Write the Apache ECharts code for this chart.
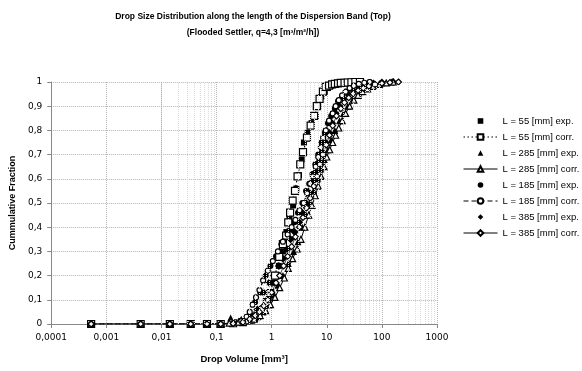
<!DOCTYPE html>
<html>
<head>
<meta charset="utf-8">
<script src="https://cdn.jsdelivr.net/npm/echarts@6/dist/echarts.min.js"></script>
<style>
  html, body { margin: 0; padding: 0; background: #fff; }
  #chart { width: 582px; height: 371px; }
</style>
</head>
<body>
<div id="chart"></div>
<script>
// drop volume [mm3] / cumulative fraction pairs
const l55Exp = [[0.3,0.005],[0.5,0.02],[0.7,0.05],[0.88,0.1],[1.1,0.17],[1.35,0.24],[1.6,0.3],[1.85,0.38],[2.1,0.44],[2.45,0.49],[2.8,0.56],[3.13,0.615],[3.5,0.68],[3.85,0.75],[4.5,0.79],[5.3,0.83],[6.3,0.857],[7,0.9],[8,0.94],[9.2,0.96],[10.5,0.975],[12,0.985],[15,0.99],[20,0.996],[28,1]];
const l55Corr = [[0.00053,0],[0.0042,0],[0.0142,0],[0.034,0],[0.067,0],[0.119,0],[0.2,0.003],[0.3,0.008],[0.42,0.018],[0.55,0.035],[0.7,0.06],[0.82,0.09],[0.94,0.128],[1.15,0.2],[1.37,0.277],[1.6,0.33],[1.83,0.365],[2,0.42],[2.16,0.46],[2.4,0.51],[2.65,0.55],[2.95,0.61],[3.3,0.66],[3.7,0.71],[4.37,0.77],[5.1,0.82],[5.9,0.86],[6.6,0.9],[7.4,0.93],[8.5,0.96],[9.5,0.98],[11,0.985],[12.5,0.99],[14,0.992],[16,0.994],[18,0.996],[21,0.997],[24,0.998],[28,0.999],[33,1],[40,1]];
const l285Exp = [[0.18,0.025],[0.28,0.02],[0.4,0.015],[0.55,0.03],[0.7,0.05],[0.9,0.08],[1.1,0.12],[1.3,0.16],[1.6,0.2],[2,0.25],[2.5,0.3],[3,0.34],[3.6,0.4],[4.2,0.45],[5,0.5],[5.8,0.55],[6.8,0.6],[7.8,0.64],[9,0.68],[10.5,0.72],[12,0.76],[14,0.8],[17,0.84],[20,0.87],[24,0.9],[30,0.93],[38,0.955],[50,0.975],[70,0.988],[100,0.996],[150,1]];
const l285Corr = [[0.00053,0],[0.0042,0],[0.0142,0],[0.034,0],[0.067,0],[0.119,0],[0.17,0.004],[0.25,0.008],[0.35,0.013],[0.48,0.02],[0.62,0.035],[0.78,0.055],[0.95,0.08],[1.15,0.11],[1.4,0.15],[1.7,0.19],[2,0.23],[2.4,0.27],[2.9,0.31],[3.4,0.35],[4,0.4],[4.7,0.45],[5.4,0.49],[6.2,0.53],[7,0.57],[7.9,0.61],[8.9,0.65],[10,0.69],[11.3,0.72],[12.8,0.75],[14.5,0.78],[16.5,0.81],[19,0.84],[22,0.87],[26,0.9],[31,0.925],[37,0.945],[45,0.96],[55,0.972],[70,0.982],[90,0.99],[120,0.996],[160,1]];
const l185Exp = [[0.3,0.01],[0.4,0.04],[0.5,0.09],[0.62,0.13],[0.78,0.2],[0.95,0.24],[1.2,0.28],[1.5,0.33],[1.8,0.36],[2.2,0.39],[2.6,0.42],[3,0.46],[3.6,0.5],[4.2,0.55],[4.8,0.58],[5.5,0.62],[6.2,0.66],[7,0.7],[8,0.75],[9.2,0.79],[10.5,0.83],[12,0.86],[14,0.89],[16,0.92],[19,0.94],[23,0.96],[28,0.975],[35,0.988],[45,0.995],[60,1]];
const l185Corr = [[0.00053,0],[0.0042,0],[0.0142,0],[0.034,0],[0.067,0],[0.119,0],[0.2,0.004],[0.28,0.012],[0.35,0.03],[0.4,0.05],[0.45,0.08],[0.52,0.11],[0.6,0.14],[0.7,0.18],[0.85,0.22],[1.05,0.26],[1.3,0.3],[1.6,0.34],[1.95,0.37],[2.3,0.4],[2.7,0.43],[3.2,0.47],[3.8,0.5],[4.4,0.54],[5,0.58],[5.6,0.61],[6.3,0.65],[7,0.69],[7.8,0.73],[8.6,0.77],[9.6,0.8],[11,0.84],[12.8,0.87],[14.5,0.9],[16.5,0.925],[19,0.945],[22,0.96],[26,0.975],[31,0.985],[38,0.992],[48,0.997],[60,1]];
const l385Exp = [[0.45,0.03],[0.55,0.06],[0.71,0.13],[0.9,0.17],[1.1,0.2],[1.35,0.24],[1.6,0.27],[1.9,0.31],[2.2,0.35],[2.6,0.38],[3.16,0.42],[3.6,0.46],[4.2,0.5],[4.9,0.54],[5.6,0.59],[6.4,0.63],[7.3,0.67],[8.3,0.71],[9.5,0.75],[11,0.79],[12.5,0.83],[14.5,0.87],[17,0.9],[20,0.93],[24,0.95],[30,0.965],[38,0.978],[50,0.987],[70,0.994],[100,0.998],[160,1]];
const l385Corr = [[0.00053,0],[0.0042,0],[0.0142,0],[0.034,0],[0.067,0],[0.119,0],[0.2,0.002],[0.3,0.008],[0.4,0.02],[0.5,0.035],[0.6,0.05],[0.72,0.075],[0.85,0.1],[1,0.13],[1.2,0.17],[1.4,0.2],[1.65,0.24],[1.95,0.28],[2.3,0.32],[2.7,0.36],[3.2,0.4],[3.7,0.44],[4.3,0.48],[5,0.52],[5.8,0.57],[6.6,0.61],[7.5,0.66],[8.5,0.7],[9.8,0.74],[11.2,0.78],[12.8,0.82],[15,0.86],[18,0.89],[21,0.915],[25,0.935],[30,0.952],[37,0.965],[46,0.975],[58,0.983],[75,0.99],[100,0.995],[140,0.998],[200,1]];

// minor gridline positions (2..9 in every decade)
const minorTicks = [];
[0.0001, 0.001, 0.01, 0.1, 1, 10, 100].forEach(function (d) {
  for (let k = 2; k <= 9; k++) minorTicks.push(+(d * k).toPrecision(3));
});

const font = "DejaVu Sans";
const comma = function (v) { return String(v).replace(".", ","); };

// exp. points: line type with an invisible line so the legend shows just the marker
const expSeries = function (name, data, symbol, size) {
  return {
    name: name, type: "line", data: data,
    symbol: symbol, symbolSize: size, showAllSymbol: true,
    itemStyle: { color: "#000" },
    lineStyle: { width: 0, opacity: 0 },
    z: 3
  };
};
const corrSeries = function (name, data, symbol, size, lineType, lineWidth) {
  return {
    name: name, type: "line", data: data,
    symbol: symbol, symbolSize: size, showAllSymbol: true,
    itemStyle: { color: "#fff", borderColor: "#000", borderWidth: 1.2 },
    lineStyle: { color: "#000", width: lineWidth, type: lineType },
    z: 4
  };
};

const chart = echarts.init(document.getElementById("chart"), null, { renderer: "canvas" });
chart.setOption({
  animation: false,
  title: {
    text: "Drop Size Distribution along the length of the Dispersion Band (Top)\n(Flooded Settler, q=4,3 [m³/m²/h])",
    left: 248, top: 4, textAlign: "center",
    textStyle: { fontFamily: "Liberation Sans", fontSize: 8.5, fontWeight: "bold", color: "#000", lineHeight: 16 }
  },
  grid: { left: 48, right: 145, top: 82, bottom: 47 },
  legend: {
    orient: "vertical", left: 463, top: 116, padding: 0,
    itemWidth: 34, itemHeight: 7, itemGap: 6,
    lineStyle: { width: 1 },
    textStyle: { fontFamily: "Liberation Sans", fontSize: 9.5, color: "#000" },
    data: ["L = 55 [mm] exp.", "L = 55 [mm] corr.", "L = 285 [mm] exp.", "L = 285 [mm] corr.",
           "L = 185 [mm] exp.", "L = 185 [mm] corr.", "L = 385 [mm] exp.", "L = 385 [mm] corr."]
  },
  xAxis: {
    type: "log", logBase: 10, min: 0.0001, max: 1000,
    name: "Drop Volume [mm³]", nameLocation: "middle", nameGap: 30,
    nameTextStyle: { fontFamily: "Liberation Sans", fontSize: 9.5, fontWeight: "bold", color: "#000" },
    axisLine: { lineStyle: { color: "#888" } },
    axisTick: { show: true, length: 4, lineStyle: { color: "#888" } },
    axisLabel: { fontFamily: font, fontSize: 9, color: "#000", margin: 9, formatter: comma },
    splitLine: { show: true, lineStyle: { color: "#b4b4b4", type: "dotted", width: 1 } }
  },
  yAxis: {
    type: "value", min: 0, max: 1, interval: 0.1,
    name: "Cummulative Fraction", nameLocation: "middle", nameGap: 33,
    nameTextStyle: { fontFamily: "Liberation Sans", fontSize: 9, fontWeight: "bold", color: "#000" },
    axisLine: { show: true, lineStyle: { color: "#888" } },
    axisTick: { show: true, length: 4, lineStyle: { color: "#888" } },
    axisLabel: { fontFamily: font, fontSize: 9, color: "#000", margin: 9,
      formatter: function (v) { return comma(Math.round(v * 10) / 10); } },
    splitLine: { show: true, lineStyle: { color: "#b4b4b4", type: "dotted", width: 1 } }
  },
  series: [
    {
      name: "minor grid", type: "line", data: [], z: 1, silent: true,
      markLine: {
        silent: true, symbol: ["none", "none"], label: { show: false },
        lineStyle: { color: "#dadada", type: "dotted", width: 1 },
        data: minorTicks.map(function (v) { return { xAxis: v }; })
      }
    },
    expSeries("L = 55 [mm] exp.", l55Exp, "rect", 6),
    corrSeries("L = 55 [mm] corr.", l55Corr, "rect", 7, [1.5, 2.5], 1.2),
    expSeries("L = 285 [mm] exp.", l285Exp, "triangle", 7),
    corrSeries("L = 285 [mm] corr.", l285Corr, "triangle", 6, "solid", 1),
    expSeries("L = 185 [mm] exp.", l185Exp, "circle", 6),
    corrSeries("L = 185 [mm] corr.", l185Corr, "circle", 5, [5, 3], 1.2),
    expSeries("L = 385 [mm] exp.", l385Exp, "diamond", 8),
    corrSeries("L = 385 [mm] corr.", l385Corr, "diamond", 6, "solid", 0.7)
  ]
});
</script>
</body>
</html>
